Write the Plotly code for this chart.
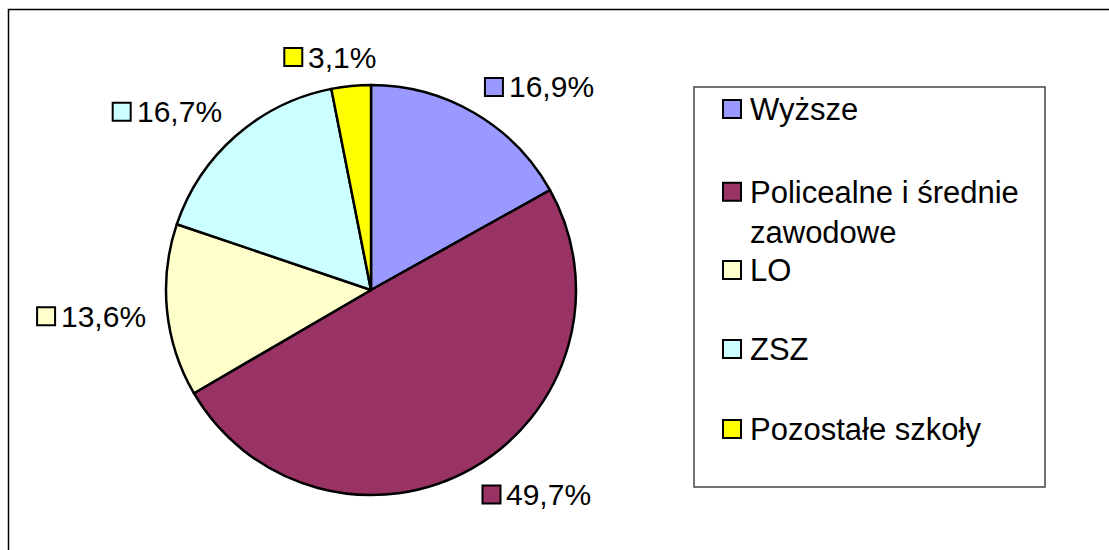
import math
import textwrap
import plotly.graph_objects as go

# ---- data ----
categories = ["Wyższe", "Policealne i średnie zawodowe", "LO", "ZSZ", "Pozostałe szkoły"]
values = [16.9, 49.7, 13.6, 16.7, 3.1]
colors = ["#9999FF", "#993366", "#FFFFCC", "#CCFFFF", "#FFFF00"]

# ---- layout constants (pixels) ----
W, H = 1109, 550
CX, CY, R = 371, 290, 205
FS_LABEL = 30
FS_LEG = 31
FONT = "Arial, 'Liberation Sans', sans-serif"
SQ = 18
GAP = 7
OFF = 20
LEG_BOX = (694, 87, 1045, 487)
LEG_SQ_X = 723
LEG_TEXT_X = 748
LEG_ROWS = [109, 212, 270, 349, 429]   # centre of each legend item
LEG_LINE = 1.3 * FS_LEG

CW = {",": 0.278, "%": 0.889, ".": 0.278}


def px(x):
    return x / W


def py(y):
    return 1 - y / H


def clip01(t):
    return max(0.0, min(1.0, t))


def text_width(s, fs):
    return sum(CW.get(c, 0.556) for c in s) * fs


def fmt(v):
    return f"{v:.1f}%".replace(".", ",")


fig = go.Figure(
    go.Pie(
        labels=categories,
        values=values,
        sort=False,
        direction="clockwise",
        rotation=0,
        marker=dict(colors=colors, line=dict(color="black", width=2.5)),
        textinfo="none",
        hoverinfo="label+percent",
        domain=dict(x=[px(CX - R), px(CX + R)], y=[py(CY + R), py(CY - R)]),
        showlegend=False,
    )
)

shapes = []
annotations = []

# outer chart border
shapes.append(dict(type="rect", xref="paper", yref="paper",
                   x0=px(8.5), x1=px(1125), y0=py(9.5), y1=py(570),
                   line=dict(color="black", width=1.5), fillcolor="rgba(0,0,0,0)", layer="below"))

# data labels computed from slice angles
total = sum(values)
cum = 0.0
for cat, v, col in zip(categories, values, colors):
    theta = 2 * math.pi * (cum + v / 2) / total
    cum += v
    s, c = math.sin(theta), math.cos(theta)
    ax = CX + (R + OFF) * s
    ay = CY - (R + OFF) * c
    label = fmt(v)
    w = SQ + GAP + text_width(label, FS_LABEL)
    fx = clip01((1 - s / 0.25) / 2)
    fy = clip01((1 + c / 0.25) / 2)
    left = ax - w * fx
    top = ay - SQ * fy
    shapes.append(dict(type="rect", xref="paper", yref="paper",
                       x0=px(left), x1=px(left + SQ), y0=py(top + SQ), y1=py(top),
                       line=dict(color="black", width=2), fillcolor=col))
    annotations.append(dict(xref="paper", yref="paper", x=px(left + SQ + GAP - 3), y=py(top + SQ / 2),
                            xanchor="left", yanchor="middle", showarrow=False, text=label,
                            font=dict(family=FONT, size=FS_LABEL, color="black")))

# legend box
shapes.append(dict(type="rect", xref="paper", yref="paper",
                   x0=px(LEG_BOX[0]), x1=px(LEG_BOX[2]), y0=py(LEG_BOX[3]), y1=py(LEG_BOX[1]),
                   line=dict(color="#444444", width=1.5), fillcolor="white"))

for cat, col, yc in zip(categories, colors, LEG_ROWS):
    lines = textwrap.wrap(cat, 20)
    first = yc - (len(lines) - 1) * LEG_LINE / 2
    shapes.append(dict(type="rect", xref="paper", yref="paper",
                       x0=px(LEG_SQ_X), x1=px(LEG_SQ_X + SQ), y0=py(first + SQ / 2), y1=py(first - SQ / 2),
                       line=dict(color="black", width=2), fillcolor=col))
    annotations.append(dict(xref="paper", yref="paper", x=px(LEG_TEXT_X), y=py(yc),
                            xanchor="left", yanchor="middle", align="left", showarrow=False,
                            text="<br>".join(lines),
                            font=dict(family=FONT, size=FS_LEG, color="black")))

fig.update_layout(
    width=W, height=H,
    margin=dict(l=0, r=0, t=0, b=0),
    paper_bgcolor="white", plot_bgcolor="white",
    shapes=shapes, annotations=annotations,
    font=dict(family=FONT),
)

fig.write_html("out.html", config={"displayModeBar": False},
               post_script="document.body.style.margin='0';document.body.style.overflow='hidden';")
